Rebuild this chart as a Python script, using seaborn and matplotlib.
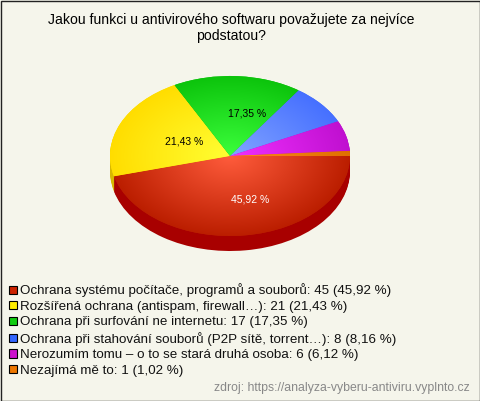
import numpy as np
import seaborn as sns
import matplotlib.pyplot as plt
from matplotlib.patches import Rectangle
from matplotlib.colors import to_rgb

sns.set_theme(style="white")
plt.rcParams["font.family"] = ["Liberation Sans", "DejaVu Sans"]

# -------------------------------
# DATA
# -------------------------------
title = "Jakou funkci u antivirového softwaru považujete za nejvíce\npodstatou?"
source = "zdroj: https://analyza-vyberu-antiviru.vyplnto.cz"
labels = [
    "Ochrana systému počítače, programů a souborů",
    "Rozšířená ochrana (antispam, firewall…)",
    "Ochrana při surfování ne internetu",
    "Ochrana při stahování souborů (P2P sítě, torrent…)",
    "Nerozumím tomu – o to se stará druhá osoba",
    "Nezajímá mě to",
]
counts = [45, 21, 17, 8, 6, 1]
percents = ["45,92", "21,43", "17,35", "8,16", "6,12", "1,02"]

# colours: centre of slice, rim of slice, side wall, legend box
center_cols = ["#ff5c3c", "#ffff33", "#3cff3c", "#82a4ff", "#f030ff", "#ff8a1c"]
rim_cols = ["#bb1e00", "#ffdd00", "#0cc40c", "#4670ff", "#c010d0", "#e07000"]
side_cols = ["#a80000", "#d8b800", "#0a9a0a", "#2a50c0", "#9000a0", "#b05000"]
box_cols = ["#cc2200", "#ffee00", "#11cc11", "#3366ff", "#cc11cc", "#ee7700"]

bg = "#f5f5eb"
W, H = 480, 401
depth_px = 15
unit_px = 80

fig = plt.figure(figsize=(W / 100, H / 100), dpi=100, facecolor=bg)
fig.patches.append(Rectangle((0.5 / W, 0.5 / H), 1 - 1 / W, 1 - 1 / H, transform=fig.transFigure,
                             fill=False, edgecolor="#222222", linewidth=1))

# axes: 240 px wide, 1 unit = 80 px vertically (the squashed pie)
ax = fig.add_axes([110 / W, (H - 256) / H, 240 / W, 180 / H])
ax.patch.set_alpha(0)

# side wall of the pie, stacked layers
for off in np.arange(depth_px, 0, -1):
    ax.pie(counts, startangle=0, counterclock=False, colors=side_cols, center=(0, -off / unit_px),
           wedgeprops={"linewidth": 0, "clip_on": False}, frame=True)

wedges, _ = ax.pie(counts, startangle=0, counterclock=False, colors=rim_cols,
                   wedgeprops={"linewidth": 0}, frame=True)

# radial shading of each slice
xx, yy = np.meshgrid(np.linspace(-1, 1, 400), np.linspace(-1, 1, 400))
rr = np.clip(np.hypot(xx, yy), 0, 1)[..., None]
for w, c0, c1 in zip(wedges, center_cols, rim_cols):
    grad = np.array(to_rgb(c0)) * (1 - rr) + np.array(to_rgb(c1)) * rr
    im = ax.imshow(grad, extent=(-1, 1, -1, 1), origin="lower", aspect="auto", zorder=2)
    im.set_clip_path(w)

ax.set_aspect("auto")
ax.set_xlim(-1, 1)
ax.set_ylim(-1.25, 1)
ax.set_xticks([])
ax.set_yticks([])
ax.set_frame_on(False)

# value labels on the three big slices
ax.text(0.167, -0.54, percents[0] + " %", color="white", fontsize=7.5, ha="center", va="center", zorder=3)
ax.text(-0.383, 0.175, percents[1] + " %", color="black", fontsize=7.5, ha="center", va="center", zorder=3)
ax.text(0.14, 0.525, percents[2] + " %", color="black", fontsize=7.5, ha="center", va="center", zorder=3)

fig.text(231 / W, 1 - 28 / H, title, ha="center", va="center", fontsize=10.05, color="black", linespacing=1.25)

handles = [Rectangle((0, 0), 1, 1, facecolor=c, edgecolor="black", linewidth=0.8) for c in box_cols]
texts = [f"{l}: {n} ({p} %)" for l, n, p in zip(labels, counts, percents)]
fig.legend(handles, texts, loc="upper left", bbox_to_anchor=(9 / W, 1 - 283.5 / H), borderaxespad=0, borderpad=0,
           frameon=False, fontsize=9.6, labelcolor="#111111", handlelength=0.58, handleheight=0.58,
           handletextpad=0.22, labelspacing=0.26)

fig.text(1 - 10 / W, 1 - 388 / H, source, ha="right", va="center", fontsize=8.8, color="#888888")

fig.savefig("out.png", dpi=100, facecolor=bg)
